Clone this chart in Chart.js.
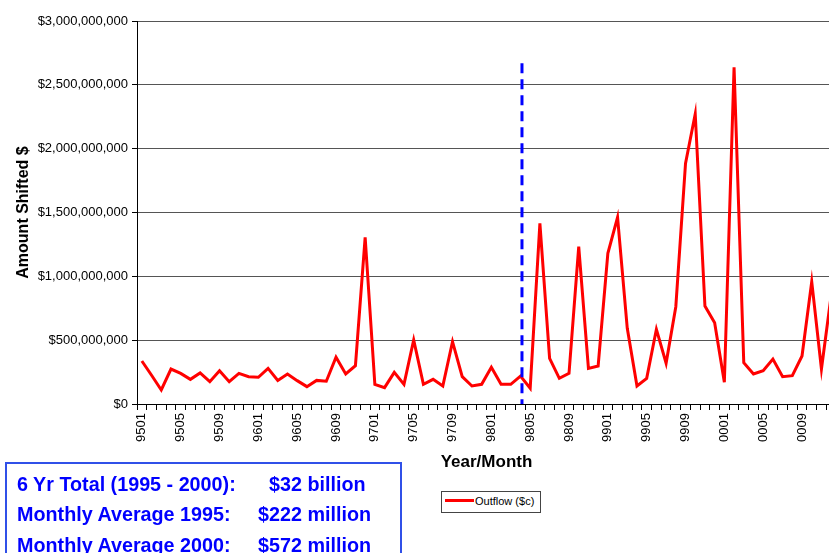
<!DOCTYPE html>
<html lang="en">
<head>
  <meta charset="UTF-8">
  <title>Monthly Outflow 1995 - 2000</title>
  <script src="https://cdn.jsdelivr.net/npm/chart.js"></script>
  <style>
    body {
      margin: 0;
      padding: 0;
      background: #fff;
      overflow: hidden;
      font-family: Arial, "Liberation Sans", sans-serif;
    }

    .page {
      position: relative;
      width: 829px;
      height: 553px;
      overflow: hidden;
    }

    .chart-box {
      position: absolute;
      left: 0;
      top: 0;
      width: 850px;
      height: 553px;
    }

    .legend {
      position: absolute;
      left: 441px;
      top: 491px;
      width: 98px;
      height: 20px;
      border: 1.5px solid #444;
      background: #fff;
      font-size: 11px;
      color: #000;
    }

    .legend .swatch {
      position: absolute;
      left: 3px;
      top: 7px;
      width: 29px;
      height: 3px;
      background: #ff0000;
    }

    .legend .label {
      position: absolute;
      left: 33px;
      top: 3px;
      white-space: nowrap;
    }

    .stats {
      position: absolute;
      left: 5px;
      top: 462px;
      width: 393px;
      height: 120px;
      border: 2px solid #3050e8;
      color: #0000ff;
      font-weight: bold;
      font-size: 21px;
    }

    .stats span {
      position: absolute;
      white-space: nowrap;
      transform: scaleX(0.94);
      transform-origin: left center;
    }
  </style>
</head>
<body>
  <div class="page">
    <div class="chart-box">
      <canvas id="outflowChart" width="850" height="553"></canvas>
    </div>

    <div class="legend">
      <div class="swatch"></div>
      <div class="label">Outflow ($c)</div>
    </div>

    <div class="stats">
      <span style="left:10px; top:8px;">6 Yr Total (1995 - 2000):</span>
      <span style="left:262px; top:8px;">$32 billion</span>
      <span style="left:10px; top:38px;">Monthly Average 1995:</span>
      <span style="left:251px; top:38px;">$222 million</span>
      <span style="left:10px; top:69px;">Monthly Average 2000:</span>
      <span style="left:251px; top:69px;">$572 million</span>
    </div>
  </div>

  <script>
    // Year/month codes, Jan 1995 through Dec 2000
    const months = [
      '9501', '9502', '9503', '9504', '9505', '9506', '9507', '9508', '9509', '9510', '9511', '9512',
      '9601', '9602', '9603', '9604', '9605', '9606', '9607', '9608', '9609', '9610', '9611', '9612',
      '9701', '9702', '9703', '9704', '9705', '9706', '9707', '9708', '9709', '9710', '9711', '9712',
      '9801', '9802', '9803', '9804', '9805', '9806', '9807', '9808', '9809', '9810', '9811', '9812',
      '9901', '9902', '9903', '9904', '9905', '9906', '9907', '9908', '9909', '9910', '9911', '9912',
      '0001', '0002', '0003', '0004', '0005', '0006', '0007', '0008', '0009', '0010', '0011', '0012'
    ];

    // Monthly outflow, millions of dollars
    const outflow1995 = [337, 225, 110, 274, 240, 193, 243, 175, 261, 175, 240, 214];
    const outflow1996 = [209, 279, 185, 235, 183, 136, 185, 178, 366, 235, 300, 1306];
    const outflow1997 = [154, 128, 248, 154, 501, 154, 193, 141, 488, 214, 141, 154];
    const outflow1998 = [287, 154, 154, 219, 123, 1415, 358, 201, 240, 1232, 279, 298];
    const outflow1999 = [1180, 1462, 593, 141, 201, 585, 319, 762, 1885, 2272, 768, 637];
    const outflow2000 = [170, 2637, 324, 235, 261, 352, 214, 222, 376, 958, 274, 850];

    const outflow = [].concat(outflow1995, outflow1996, outflow1997, outflow1998, outflow1999, outflow2000);

    // y axis in millions: 0 .. 3000, gridline every 500
    const yMax = 3000;
    const yStep = 500;

    // dashed divider at April 1998
    const splitMonth = '9804';
    const splitTop = 2670;

    const splitLine = {
      id: 'splitLine',
      afterDatasetsDraw(chart) {
        const { ctx, scales: { x, y } } = chart;
        const px = x.getPixelForValue(months.indexOf(splitMonth)) + 1.5;
        ctx.save();
        ctx.strokeStyle = '#0000ff';
        ctx.lineWidth = 3;
        ctx.setLineDash([10, 6]);
        ctx.beginPath();
        ctx.moveTo(px, y.getPixelForValue(splitTop));
        ctx.lineTo(px, y.getPixelForValue(0));
        ctx.stroke();
        ctx.restore();
      }
    };

    Chart.defaults.font.family = 'Arial, "Liberation Sans", sans-serif';

    const ctx = document.getElementById('outflowChart').getContext('2d');
    new Chart(ctx, {
      type: 'line',
      data: {
        labels: months,
        datasets: [{
          label: 'Outflow ($c)',
          data: outflow,
          borderColor: '#ff0000',
          borderWidth: 3,
          pointRadius: 0,
          tension: 0,
          fill: false
        }]
      },
      options: {
        responsive: false,
        animation: false,
        layout: { padding: { left: 0, right: 14, top: 21, bottom: 0 } },
        plugins: {
          legend: { display: false },
          tooltip: { enabled: false }
        },
        scales: {
          x: {
            offset: true,
            grid: { offset: true, drawOnChartArea: false, tickLength: 6, tickColor: '#000' },
            border: { color: '#000', width: 1 },
            ticks: {
              autoSkip: false,
              maxRotation: 90,
              minRotation: 90,
              padding: 3,
              color: '#000',
              font: { size: 13 },
              callback: (v, i) => (i % 4 === 0 ? months[i] : '')
            },
            title: {
              display: true,
              text: 'Year/Month',
              color: '#000',
              font: { size: 17, weight: 'bold' },
              padding: { top: 0, bottom: 80 }
            },
            afterFit: (scale) => { scale.height = 149; }
          },
          y: {
            min: 0,
            max: yMax,
            ticks: {
              stepSize: yStep,
              padding: 4,
              color: '#000',
              font: { size: 13 },
              callback: (v) => '$' + (v * 1e6).toLocaleString('en-US')
            },
            grid: { color: '#555', tickColor: '#000', tickLength: 5 },
            border: { color: '#000', width: 1 },
            title: {
              display: true,
              text: 'Amount Shifted $',
              color: '#000',
              font: { size: 16, weight: 'bold' },
              padding: { top: 14, bottom: 0 }
            },
            afterFit: (scale) => { scale.width = 137; }
          }
        }
      },
      plugins: [splitLine]
    });
  </script>
</body>
</html>
